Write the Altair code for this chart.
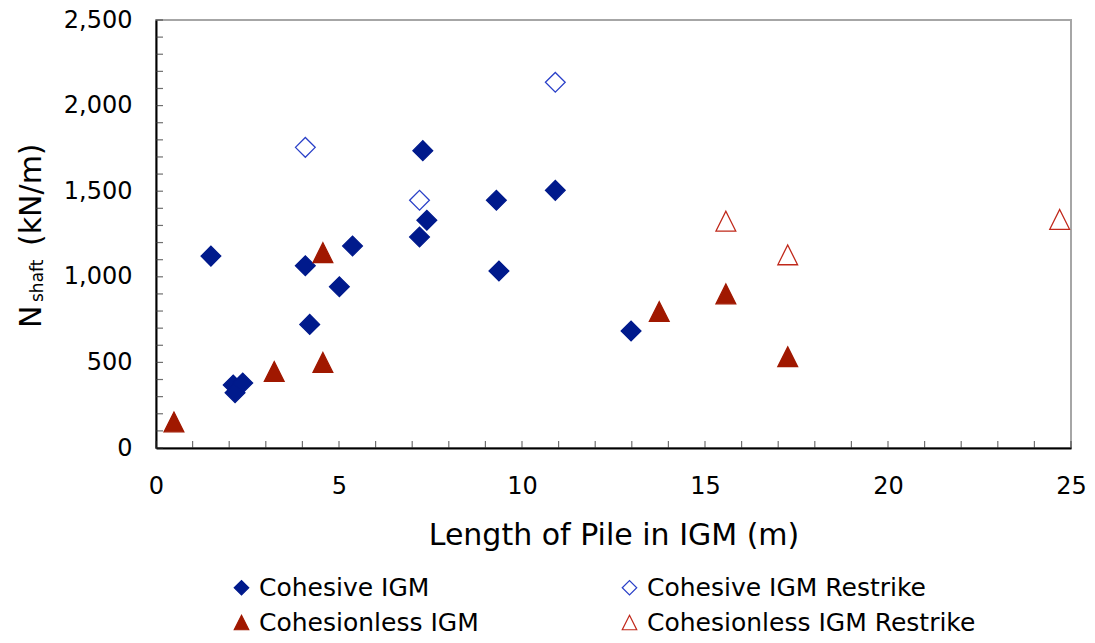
import altair as alt
import pandas as pd

# ---- data ----
series_names = ["Cohesive IGM", "Cohesive IGM Restrike", "Cohesionless IGM", "Cohesionless IGM Restrike"]

coh_x = [1.50, 2.11, 2.16, 2.37, 4.08, 4.20, 5.01, 5.37, 7.20, 7.40, 7.29, 9.30, 9.37, 10.91, 12.98]
coh_y = [1121, 368, 323, 380, 1065, 722, 942, 1180, 1232, 1330, 1737, 1447, 1034, 1505, 683]

coh_rs_x = [4.08, 7.20, 10.91]
coh_rs_y = [1756, 1447, 2136]

cless_x = [0.49, 3.23, 4.56, 4.56, 13.75, 15.57, 17.26]
cless_y = [152, 447, 1141, 500, 797, 900, 533]

cless_rs_x = [15.57, 17.26, 24.69]
cless_rs_y = [1325, 1128, 1335]

x_major = [0, 5, 10, 15, 20, 25]
y_major = [0, 500, 1000, 1500, 2000, 2500]
x_minor = [0, 1, 2, 3, 4, 5, 6, 7, 8, 9, 10, 11, 12, 13, 14, 15, 16, 17, 18, 19, 20, 21, 22, 23, 24, 25]
y_minor = [0, 100, 200, 300, 400, 500, 600, 700, 800, 900, 1000, 1100, 1200, 1300, 1400,
           1500, 1600, 1700, 1800, 1900, 2000, 2100, 2200, 2300, 2400, 2500]

rows = []
for name, xs, ys in [(series_names[0], coh_x, coh_y),
                     (series_names[1], coh_rs_x, coh_rs_y),
                     (series_names[2], cless_x, cless_y),
                     (series_names[3], cless_rs_x, cless_rs_y)]:
    for xv, yv in zip(xs, ys):
        rows.append({"series": name, "length": xv, "nshaft": yv})
df = pd.DataFrame(rows)

FONT = "DejaVu Sans"
TRI = "M0,-1L1,1L-1,1Z"
DIA = "diamond"

x_scale = alt.Scale(domain=[0, 25], nice=False, zero=False)
y_scale = alt.Scale(domain=[0, 2500], nice=False)

x_axis = alt.Axis(values=x_major, labelExpr="format(datum.value, 'd')", labelFlush=False,
                  title="Length of Pile in IGM (m)", labelPadding=26, titlePadding=22)
y_axis = alt.Axis(values=y_major, labelExpr="format(datum.value, ',')", labelFlush=False,
                  title=None, labelPadding=24)

legend = alt.Legend(title=None, orient="none", direction="horizontal", legendX=73, legendY=555,
                    columns=2, columnPadding=138, rowPadding=9, labelFontSize=25, labelFont=FONT,
                    labelColor="black", labelLimit=0, symbolSize=210, symbolStrokeWidth=1.2,
                    labelOffset=5, padding=0)

points = alt.Chart(df).mark_point(opacity=1, strokeWidth=1.3, size=390).encode(
    x=alt.X("length:Q", scale=x_scale, axis=x_axis, title="Length of Pile in IGM (m)"),
    y=alt.Y("nshaft:Q", scale=y_scale, axis=y_axis, title=None),
    shape=alt.Shape("series:N", scale=alt.Scale(domain=series_names, range=[DIA, DIA, TRI, TRI]),
                    legend=legend),
    fill=alt.Fill("series:N", scale=alt.Scale(domain=series_names,
                                              range=["#001a8c", "white", "#a01800", "white"]),
                  legend=legend),
    stroke=alt.Stroke("series:N", scale=alt.Scale(domain=series_names,
                                                  range=["#001a8c", "#2a40c8", "#a01800", "#c0281a"]),
                      legend=legend),
)

yticks = alt.Chart(pd.DataFrame({"v": y_minor})).mark_tick(color="#333333", size=7, thickness=1.2).encode(
    y=alt.Y("v:Q", scale=y_scale, axis=y_axis, title=None),
    x=alt.value(3.5),
)
xticks = alt.Chart(pd.DataFrame({"v": x_minor})).mark_tick(color="#333333", size=7, thickness=1.2).encode(
    x=alt.X("v:Q", scale=x_scale, axis=x_axis, title="Length of Pile in IGM (m)"),
    y=alt.value(428 - 3.5),
)

one = alt.Data(values=[{}])
t_n = alt.Chart(one).mark_text(text="N", angle=270, align="left", baseline="alphabetic",
                               font=FONT, fontSize=30, color="black").encode(
    x=alt.value(-115), y=alt.value(308))
t_sub = alt.Chart(one).mark_text(text="shaft", angle=270, align="left", baseline="alphabetic",
                                 font=FONT, fontSize=17, color="black").encode(
    x=alt.value(-113), y=alt.value(282))
t_unit = alt.Chart(one).mark_text(text="(kN/m)", angle=270, align="left", baseline="alphabetic",
                                  font=FONT, fontSize=30, color="black").encode(
    x=alt.value(-115), y=alt.value(226))

chart = alt.layer(points, yticks, xticks, t_n, t_sub, t_unit).properties(
    width=915, height=428,
    autosize=alt.AutoSizeParams(type="none"),
    padding={"left": 148, "top": 12, "right": 16, "bottom": 187},
).configure_view(
    stroke="#a6a6a6", strokeWidth=2
).configure_axis(
    domainColor="black", domainWidth=2, labelFont=FONT, labelFontSize=24, labelColor="black",
    titleFont=FONT, titleFontSize=30, titleFontWeight="normal", titleColor="black",
    grid=False, ticks=False, tickSize=0
)

chart.save("out.html", embed_options={"renderer": "svg", "actions": False})
